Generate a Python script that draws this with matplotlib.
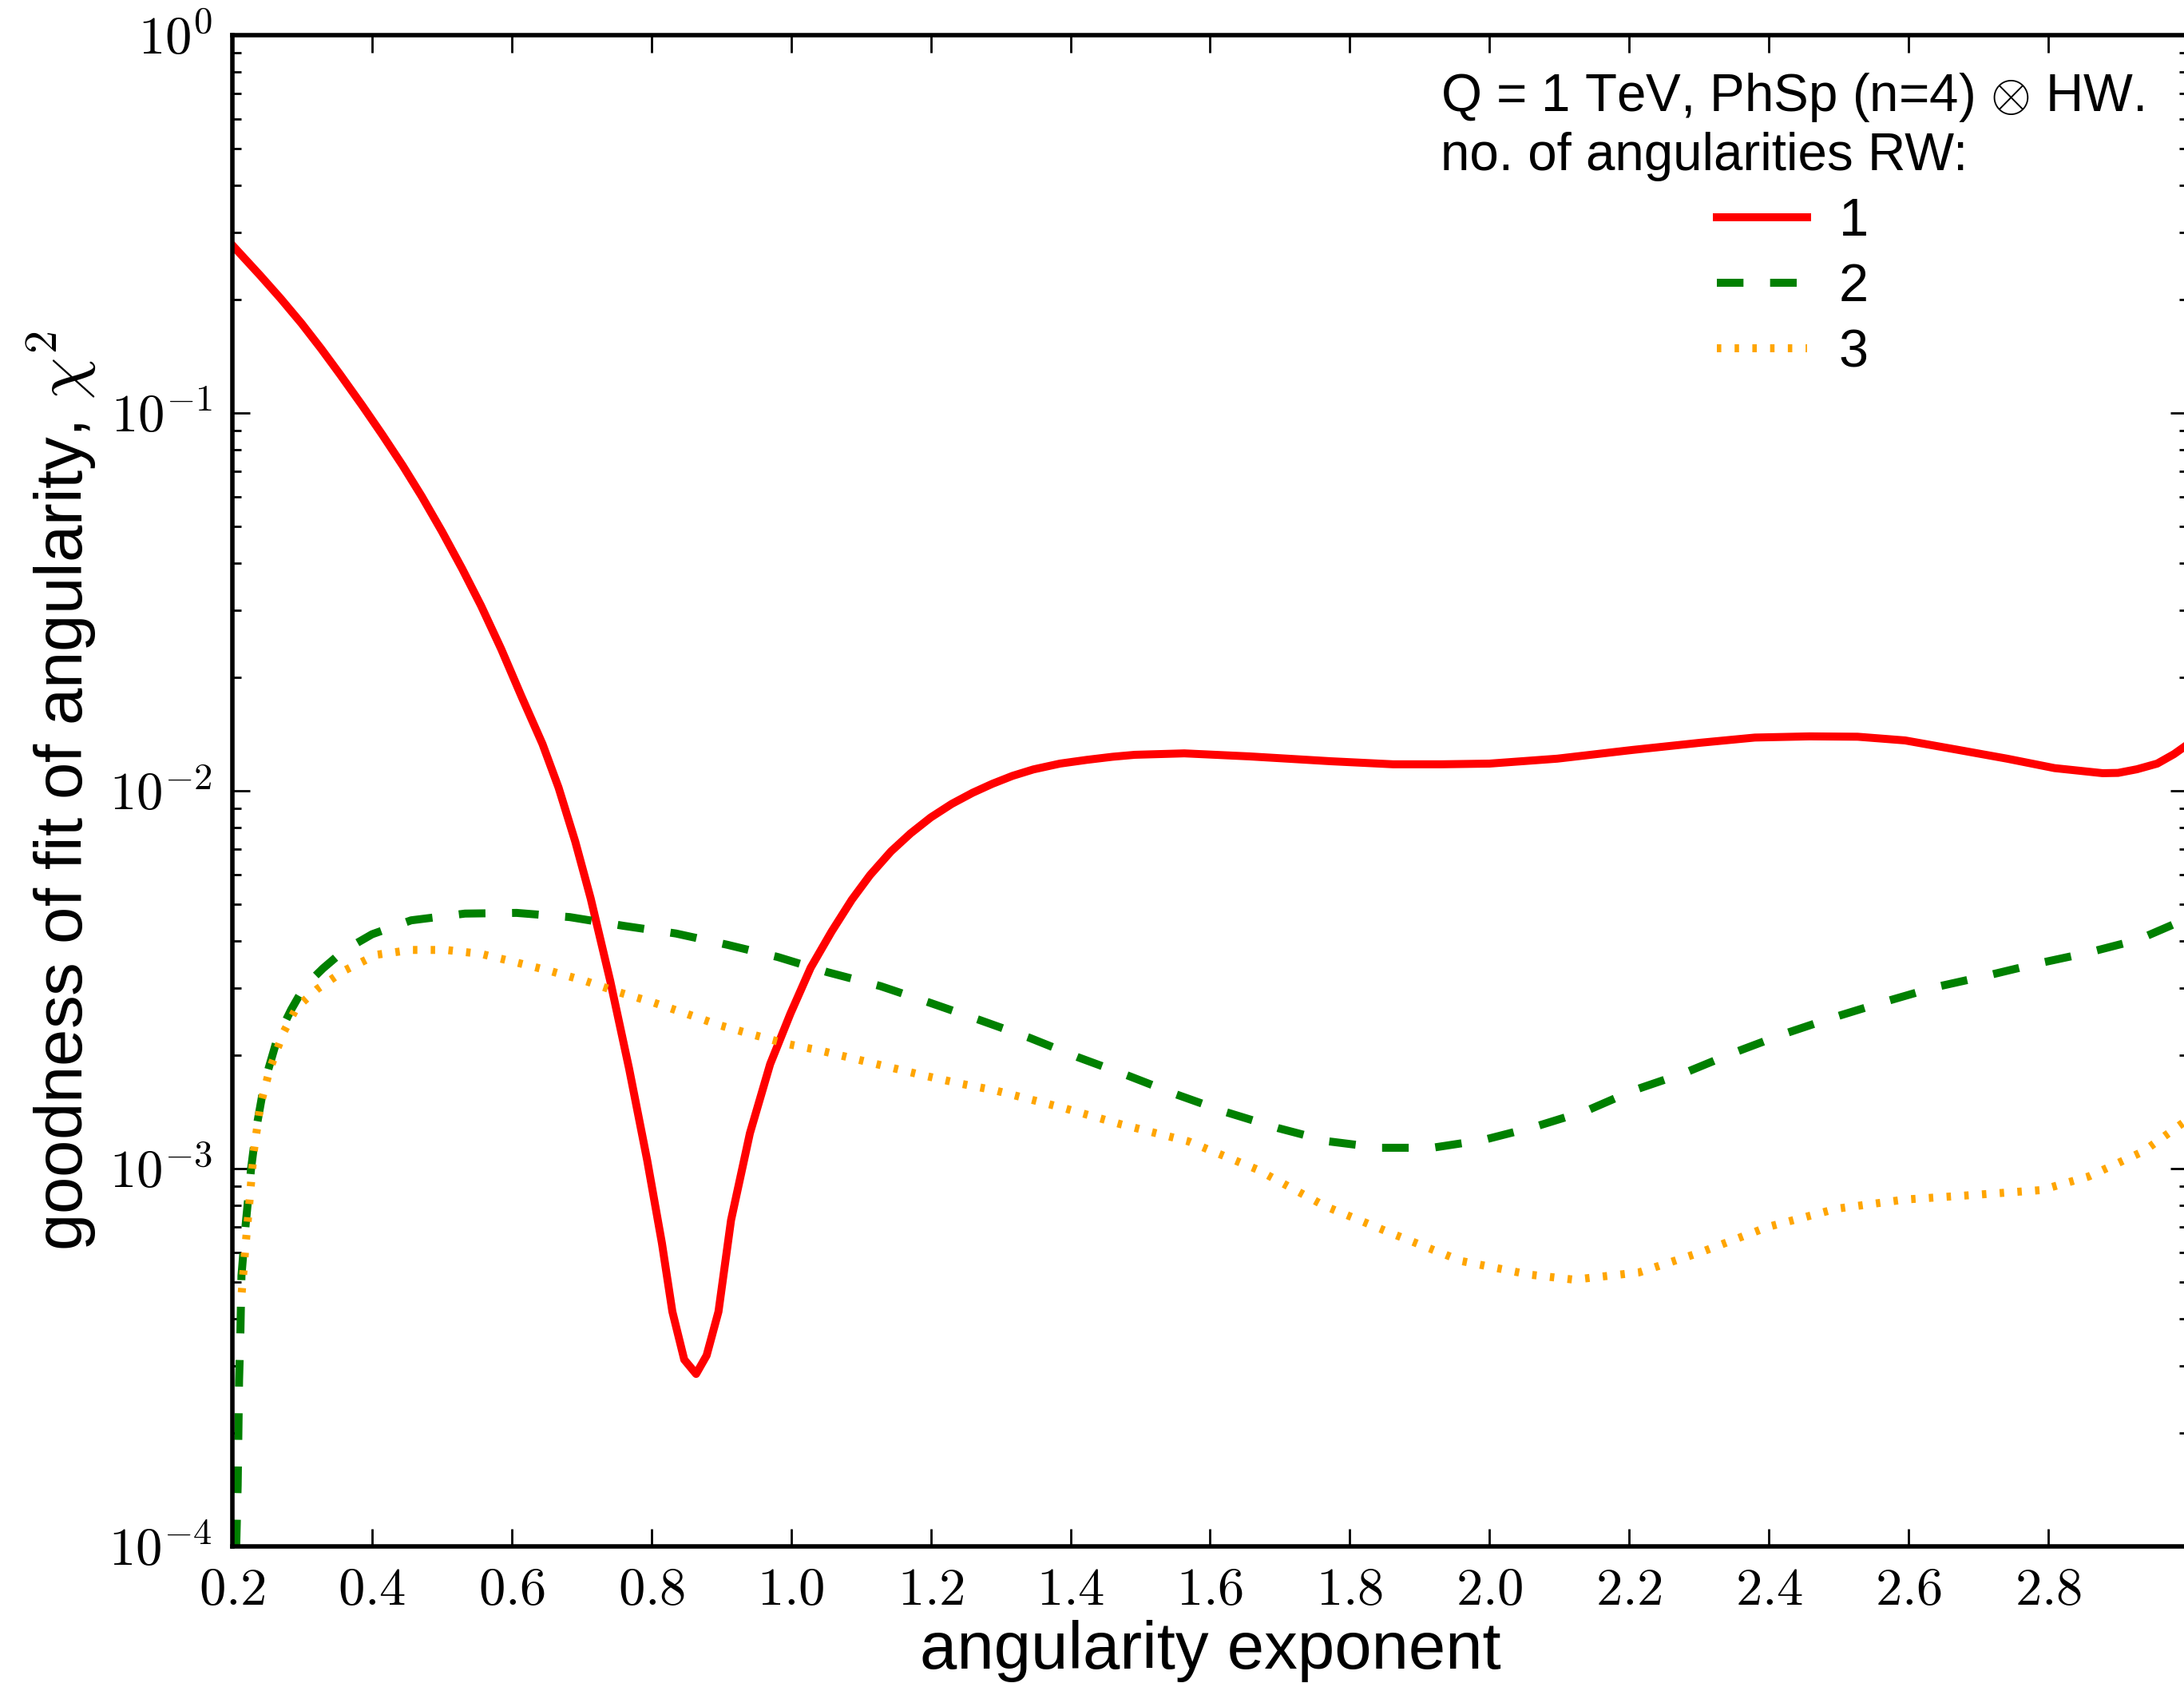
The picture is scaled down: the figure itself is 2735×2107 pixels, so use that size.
import math
import matplotlib
matplotlib.use("Agg")
import matplotlib.pyplot as plt
from matplotlib.ticker import FuncFormatter, LogLocator, NullLocator

# chi^2, one RW angularity per curve
x_rw1 = [0.200, 0.240, 0.269, 0.299, 0.327, 0.354, 0.386, 0.415, 0.444, 0.471,
         0.500, 0.529, 0.556, 0.585, 0.614, 0.644, 0.667, 0.691, 0.713, 0.741,
         0.768, 0.794, 0.815, 0.830, 0.847, 0.864, 0.879, 0.896, 0.914, 0.941,
         0.970, 0.999, 1.028, 1.058, 1.087, 1.113, 1.143, 1.171, 1.200, 1.230,
         1.260, 1.288, 1.317, 1.347, 1.385, 1.423, 1.460, 1.492, 1.563, 1.656,
         1.773, 1.862, 1.931, 2.000, 2.097, 2.204, 2.302, 2.380, 2.458, 2.527,
         2.595, 2.672, 2.741, 2.809, 2.878, 2.900, 2.927, 2.956, 2.980, 3.003]
chi2_rw1 = [0.278, 0.231, 0.201, 0.1726, 0.148, 0.1266, 0.1046, 0.0874, 0.0725, 0.0602,
            0.0486, 0.0387, 0.0309, 0.0237, 0.01776, 0.0133, 0.0102, 0.00733, 0.00519, 0.00314,
            0.00184, 0.00105, 0.000635, 0.000418, 0.000312, 0.000286, 0.00032, 0.000418, 0.00073, 0.00124,
            0.00189, 0.00257, 0.0034, 0.00424, 0.00515, 0.00598, 0.00691, 0.00771, 0.0085, 0.00923,
            0.00988, 0.01043, 0.01095, 0.01139, 0.0118, 0.01207, 0.0123, 0.01245, 0.01256, 0.01233,
            0.01197, 0.01175, 0.01175, 0.0118, 0.01216, 0.01282, 0.0134, 0.01383, 0.01393, 0.0139,
            0.01359, 0.01282, 0.01216, 0.01148, 0.01113, 0.01115, 0.0114, 0.0118, 0.0125, 0.0134]

x_rw2 = [0.2055, 0.2076, 0.2096, 0.2115, 0.213, 0.219, 0.2268, 0.234, 0.246, 0.265,
         0.284, 0.303, 0.33, 0.36, 0.40, 0.456, 0.533, 0.607, 0.683, 0.760,
         0.835, 0.909, 0.981, 1.052, 1.128, 1.198, 1.268, 1.341, 1.411, 1.483,
         1.552, 1.623, 1.697, 1.770, 1.843, 1.918, 1.991, 2.065, 2.138, 2.206,
         2.279, 2.348, 2.421, 2.489, 2.562, 2.638, 2.709, 2.782, 2.855, 2.928,
         3.0]
chi2_rw2 = [1.0e-4, 1.45e-4, 2.75e-4, 3.7e-4, 5.2e-4, 7.1e-4, 1.0e-3, 1.27e-3, 1.69e-3, 2.23e-3,
            2.63e-3, 3.03e-3, 3.39e-3, 3.78e-3, 4.17e-3, 4.54e-3, 4.73e-3, 4.75e-3, 4.63e-3, 4.39e-3,
            4.19e-3, 3.91e-3, 3.63e-3, 3.31e-3, 3.04e-3, 2.75e-3, 2.48e-3, 2.22e-3, 1.97e-3, 1.76e-3,
            1.57e-3, 1.41e-3, 1.28e-3, 1.18e-3, 1.135e-3, 1.135e-3, 1.19e-3, 1.29e-3, 1.42e-3, 1.61e-3,
            1.79e-3, 2.02e-3, 2.27e-3, 2.50e-3, 2.75e-3, 3.02e-3, 3.23e-3, 3.48e-3, 3.72e-3, 4.03e-3,
            4.6e-3]

x_rw3 = [0.2134, 0.219, 0.225, 0.2306, 0.24, 0.2535, 0.273, 0.292, 0.322, 0.36,
         0.406, 0.456, 0.506, 0.556, 0.607, 0.656, 0.707, 0.753, 0.803, 0.850,
         0.896, 0.946, 0.993, 1.043, 1.092, 1.143, 1.192, 1.241, 1.292, 1.339,
         1.388, 1.435, 1.472, 1.569, 1.667, 1.764, 1.862, 1.960, 2.057, 2.121,
         2.214, 2.302, 2.399, 2.497, 2.595, 2.692, 2.79, 2.858, 2.936, 3.0]
chi2_rw3 = [4.7e-4, 6.3e-4, 8.4e-4, 1.11e-3, 1.47e-3, 1.83e-3, 2.29e-3, 2.67e-3, 2.99e-3, 3.34e-3,
            3.68e-3, 3.79e-3, 3.79e-3, 3.70e-3, 3.51e-3, 3.33e-3, 3.13e-3, 2.93e-3, 2.75e-3, 2.57e-3,
            2.40e-3, 2.26e-3, 2.14e-3, 2.05e-3, 1.95e-3, 1.85e-3, 1.76e-3, 1.68e-3, 1.61e-3, 1.53e-3,
            1.45e-3, 1.37e-3, 1.31e-3, 1.18e-3, 9.95e-4, 7.96e-4, 6.71e-4, 5.69e-4, 5.24e-4, 5.08e-4,
            5.31e-4, 6.0e-4, 7.01e-4, 7.83e-4, 8.28e-4, 8.51e-4, 8.77e-4, 9.53e-4, 1.11e-3, 1.35e-3]

x_ticks = [0.2, 0.4, 0.6, 0.8, 1.0, 1.2, 1.4, 1.6, 1.8, 2.0, 2.2, 2.4, 2.6, 2.8]
legend_title = "Q = 1 TeV, PhSp (n=4) $\\otimes$ HW.\nno. of angularities RW:"

plt.rcParams["font.family"] = ["Liberation Sans", "DejaVu Sans"]
plt.rcParams["mathtext.fontset"] = "cm"
plt.rcParams["lines.scale_dashes"] = False

fig = plt.figure(figsize=(2735 / 400, 2107 / 400), dpi=400)
ax = fig.add_axes([0.1064, 0.0812, 0.8954, 0.8979])

ax.plot(x_rw1, chi2_rw1, color="red", lw=1.8, label="1")
ax.plot(x_rw2, chi2_rw2, color="green", lw=1.8, dashes=(6, 6), label="2")
ax.plot(x_rw3, chi2_rw3, color="orange", lw=1.8, dashes=(1, 3), label="3")

ax.set_yscale("log")
ax.set_xlim(0.2, 3.0)
ax.set_ylim(1e-4, 1.0)
ax.set_xticks(x_ticks)
ax.xaxis.set_minor_locator(NullLocator())
ax.yaxis.set_major_locator(LogLocator(base=10))
ax.yaxis.set_minor_locator(LogLocator(base=10, subs=range(2, 10)))
ax.xaxis.set_major_formatter(FuncFormatter(lambda v, p: r"$%.1f$" % v))
ax.yaxis.set_major_formatter(FuncFormatter(lambda v, p: r"$10^{%d}$" % round(math.log10(v))))

ax.tick_params(which="both", direction="in", top=True, right=True, width=0.5)
ax.tick_params(which="major", length=4, labelsize=12, pad=4.5)
ax.tick_params(which="minor", length=2)
for sp in ax.spines.values():
    sp.set_linewidth(1.0)

ax.set_xlabel("angularity exponent", fontsize=15, labelpad=1)
ax.set_ylabel("goodness of fit of angularity, $\\chi^2$", fontsize=15, labelpad=2.5)

leg = ax.legend(title=legend_title, loc="upper left", bbox_to_anchor=(0.618, 0.976),
                frameon=False, fontsize=12, title_fontsize=11.8, handlelength=1.7,
                handletextpad=0.6, labelspacing=0.3, borderpad=0, borderaxespad=0)

fig.savefig("out.png", dpi=400)
